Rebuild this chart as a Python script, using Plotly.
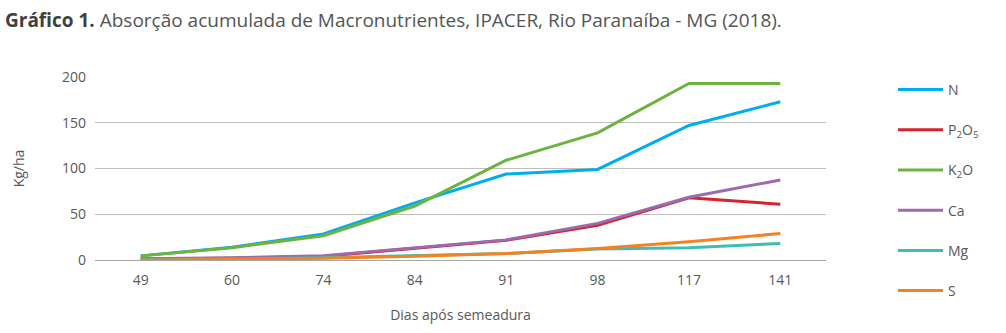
import plotly.graph_objects as go

dias = ["49", "60", "74", "84", "91", "98", "117", "141"]

n_vals = [4.5, 14, 28.5, 62.5, 94, 99, 147, 173]
p2o5_vals = [1, 2, 4, 12.5, 21.5, 38, 68, 61]
k2o_vals = [4.5, 13.5, 26.5, 59, 109, 139, 193, 193]
ca_vals = [1.5, 2.5, 4.7, 13.5, 22, 40, 68.5, 87.5]
mg_vals = [0.5, 1, 2.5, 4.5, 7, 12, 13.5, 18]
s_vals = [0, 0.5, 2, 4, 7, 12.5, 20, 29]

series = [
    ("N", n_vals, "#00AEEF"),
    ("P<sub>2</sub>O<sub>5</sub>", p2o5_vals, "#D7232C"),
    ("K<sub>2</sub>O", k2o_vals, "#6DB33F"),
    ("Ca", ca_vals, "#9B6BAF"),
    ("Mg", mg_vals, "#3DBEB3"),
    ("S", s_vals, "#F58220"),
]

fig = go.Figure()
for name, vals, color in series:
    fig.add_trace(go.Scatter(
        x=dias, y=vals, name=name, mode="lines",
        line=dict(color=color, width=3),
        legendgroup=name,
    ))

fig.update_layout(
    width=1006, height=333,
    margin=dict(l=95, r=180, t=77, b=73),
    paper_bgcolor="white", plot_bgcolor="white",
    font=dict(family="Open Sans", color="#595959", size=14),
    title=dict(
        text="<b><span style='color:#3F3F3F'>Gráfico 1.</span></b> Absorção acumulada de Macronutrientes, IPACER, Rio Paranaíba - MG (2018).",
        xref="container", yref="container",
        x=5 / 1006, xanchor="left",
        y=1 - 20 / 333, yanchor="middle",
        font=dict(family="Open Sans", size=19, color="#555555"),
    ),
    showlegend=True,
    legend=dict(
        xref="container", yref="container",
        x=893 / 1006, xanchor="left",
        y=1 - 74 / 333, yanchor="top",
        maxheight=330,
        itemwidth=45,
        tracegroupgap=19,
        font=dict(size=14, color="#595959"),
        bgcolor="rgba(0,0,0,0)",
    ),
    xaxis=dict(
        type="category",
        range=[-0.5, 7.5],
        showgrid=False,
        showline=False,
        ticks="",
        ticklabelstandoff=10,
        title=dict(text="Dias após semeadura", standoff=22,
                   font=dict(size=14, color="#595959")),
        tickfont=dict(size=14, color="#595959"),
    ),
    yaxis=dict(
        range=[0, 200],
        tickvals=[0, 50, 100, 150, 200],
        showgrid=True, gridcolor="#BFBFBF", gridwidth=1,
        zeroline=True, zerolinecolor="#A6A6A6", zerolinewidth=1,
        showline=False,
        ticks="",
        ticklabelstandoff=8,
        title=dict(text="Kg/ha", standoff=34,
                   font=dict(size=14, color="#595959")),
        tickfont=dict(size=14, color="#595959"),
    ),
)

fig.write_html("out.html")
